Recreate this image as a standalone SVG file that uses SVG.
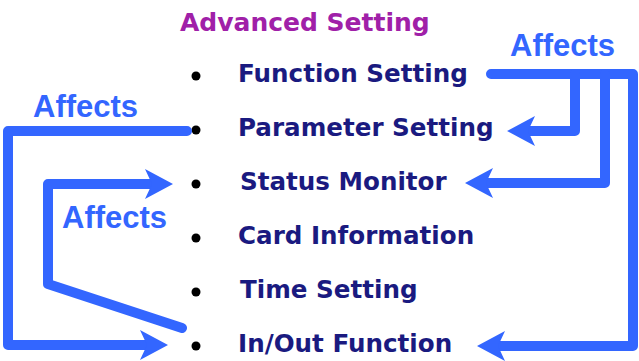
<svg xmlns="http://www.w3.org/2000/svg" width="639" height="361" viewBox="0 0 639 361">
<style>
.title{font-family:"DejaVu Sans",Verdana,sans-serif;font-weight:bold;font-size:25px;fill:#a020a8}
.item{font-family:"DejaVu Sans",Verdana,sans-serif;font-weight:bold;font-size:24.6px;fill:#1a1a80}
.bullet{fill:#000}
.lbl{font-family:"Liberation Sans",Arial,sans-serif;font-weight:bold;font-size:31px;fill:#3366ff}
.conn{fill:none;stroke:#3366ff;stroke-width:10;stroke-linecap:round;stroke-linejoin:round}
</style>
<defs>
<marker id="ah" markerUnits="userSpaceOnUse" viewBox="-8 -16 38 32" refX="0" refY="0" markerWidth="38" markerHeight="32" orient="auto" overflow="visible">
<path d="M-7,-15 L21,0 L-7,15 L0,0 Z" fill="#3366ff"/>
</marker>
</defs>
<rect width="639" height="361" fill="#fff"/>
<text class="title" x="180" y="31">Advanced Setting</text>
<g id="function-setting"><circle class="bullet" cx="196" cy="76" r="4.5"/><text class="item" x="238" y="82">Function Setting</text></g>
<g id="parameter-setting"><circle class="bullet" cx="196" cy="130" r="4.5"/><text class="item" x="238" y="136">Parameter Setting</text></g>
<g id="status-monitor"><circle class="bullet" cx="196" cy="184" r="4.5"/><text class="item" x="240" y="190">Status Monitor</text></g>
<g id="card-information"><circle class="bullet" cx="196" cy="238" r="4.5"/><text class="item" x="238" y="244">Card Information</text></g>
<g id="time-setting"><circle class="bullet" cx="196" cy="292" r="4.5"/><text class="item" x="240" y="298">Time Setting</text></g>
<g id="inout-function"><circle class="bullet" cx="196" cy="346" r="4.5"/><text class="item" x="238" y="352">In/Out Function</text></g>
<g id="connectors">
<path class="conn" d="M491,74 H633 V346 H498" marker-end="url(#ah)"/>
<path class="conn" d="M575,74 V131 H528" marker-end="url(#ah)"/>
<path class="conn" d="M605,74 V183 H486" marker-end="url(#ah)"/>
<path class="conn" d="M187,131 H8 V345 H147" marker-end="url(#ah)"/>
<path class="conn" d="M182,328 L48,284 V184 H152" marker-end="url(#ah)"/>
</g>
<g id="labels">
<text class="lbl" x="510" y="56">Affects</text>
<text class="lbl" x="33" y="117">Affects</text>
<text class="lbl" x="62" y="228">Affects</text>
</g>
</svg>
